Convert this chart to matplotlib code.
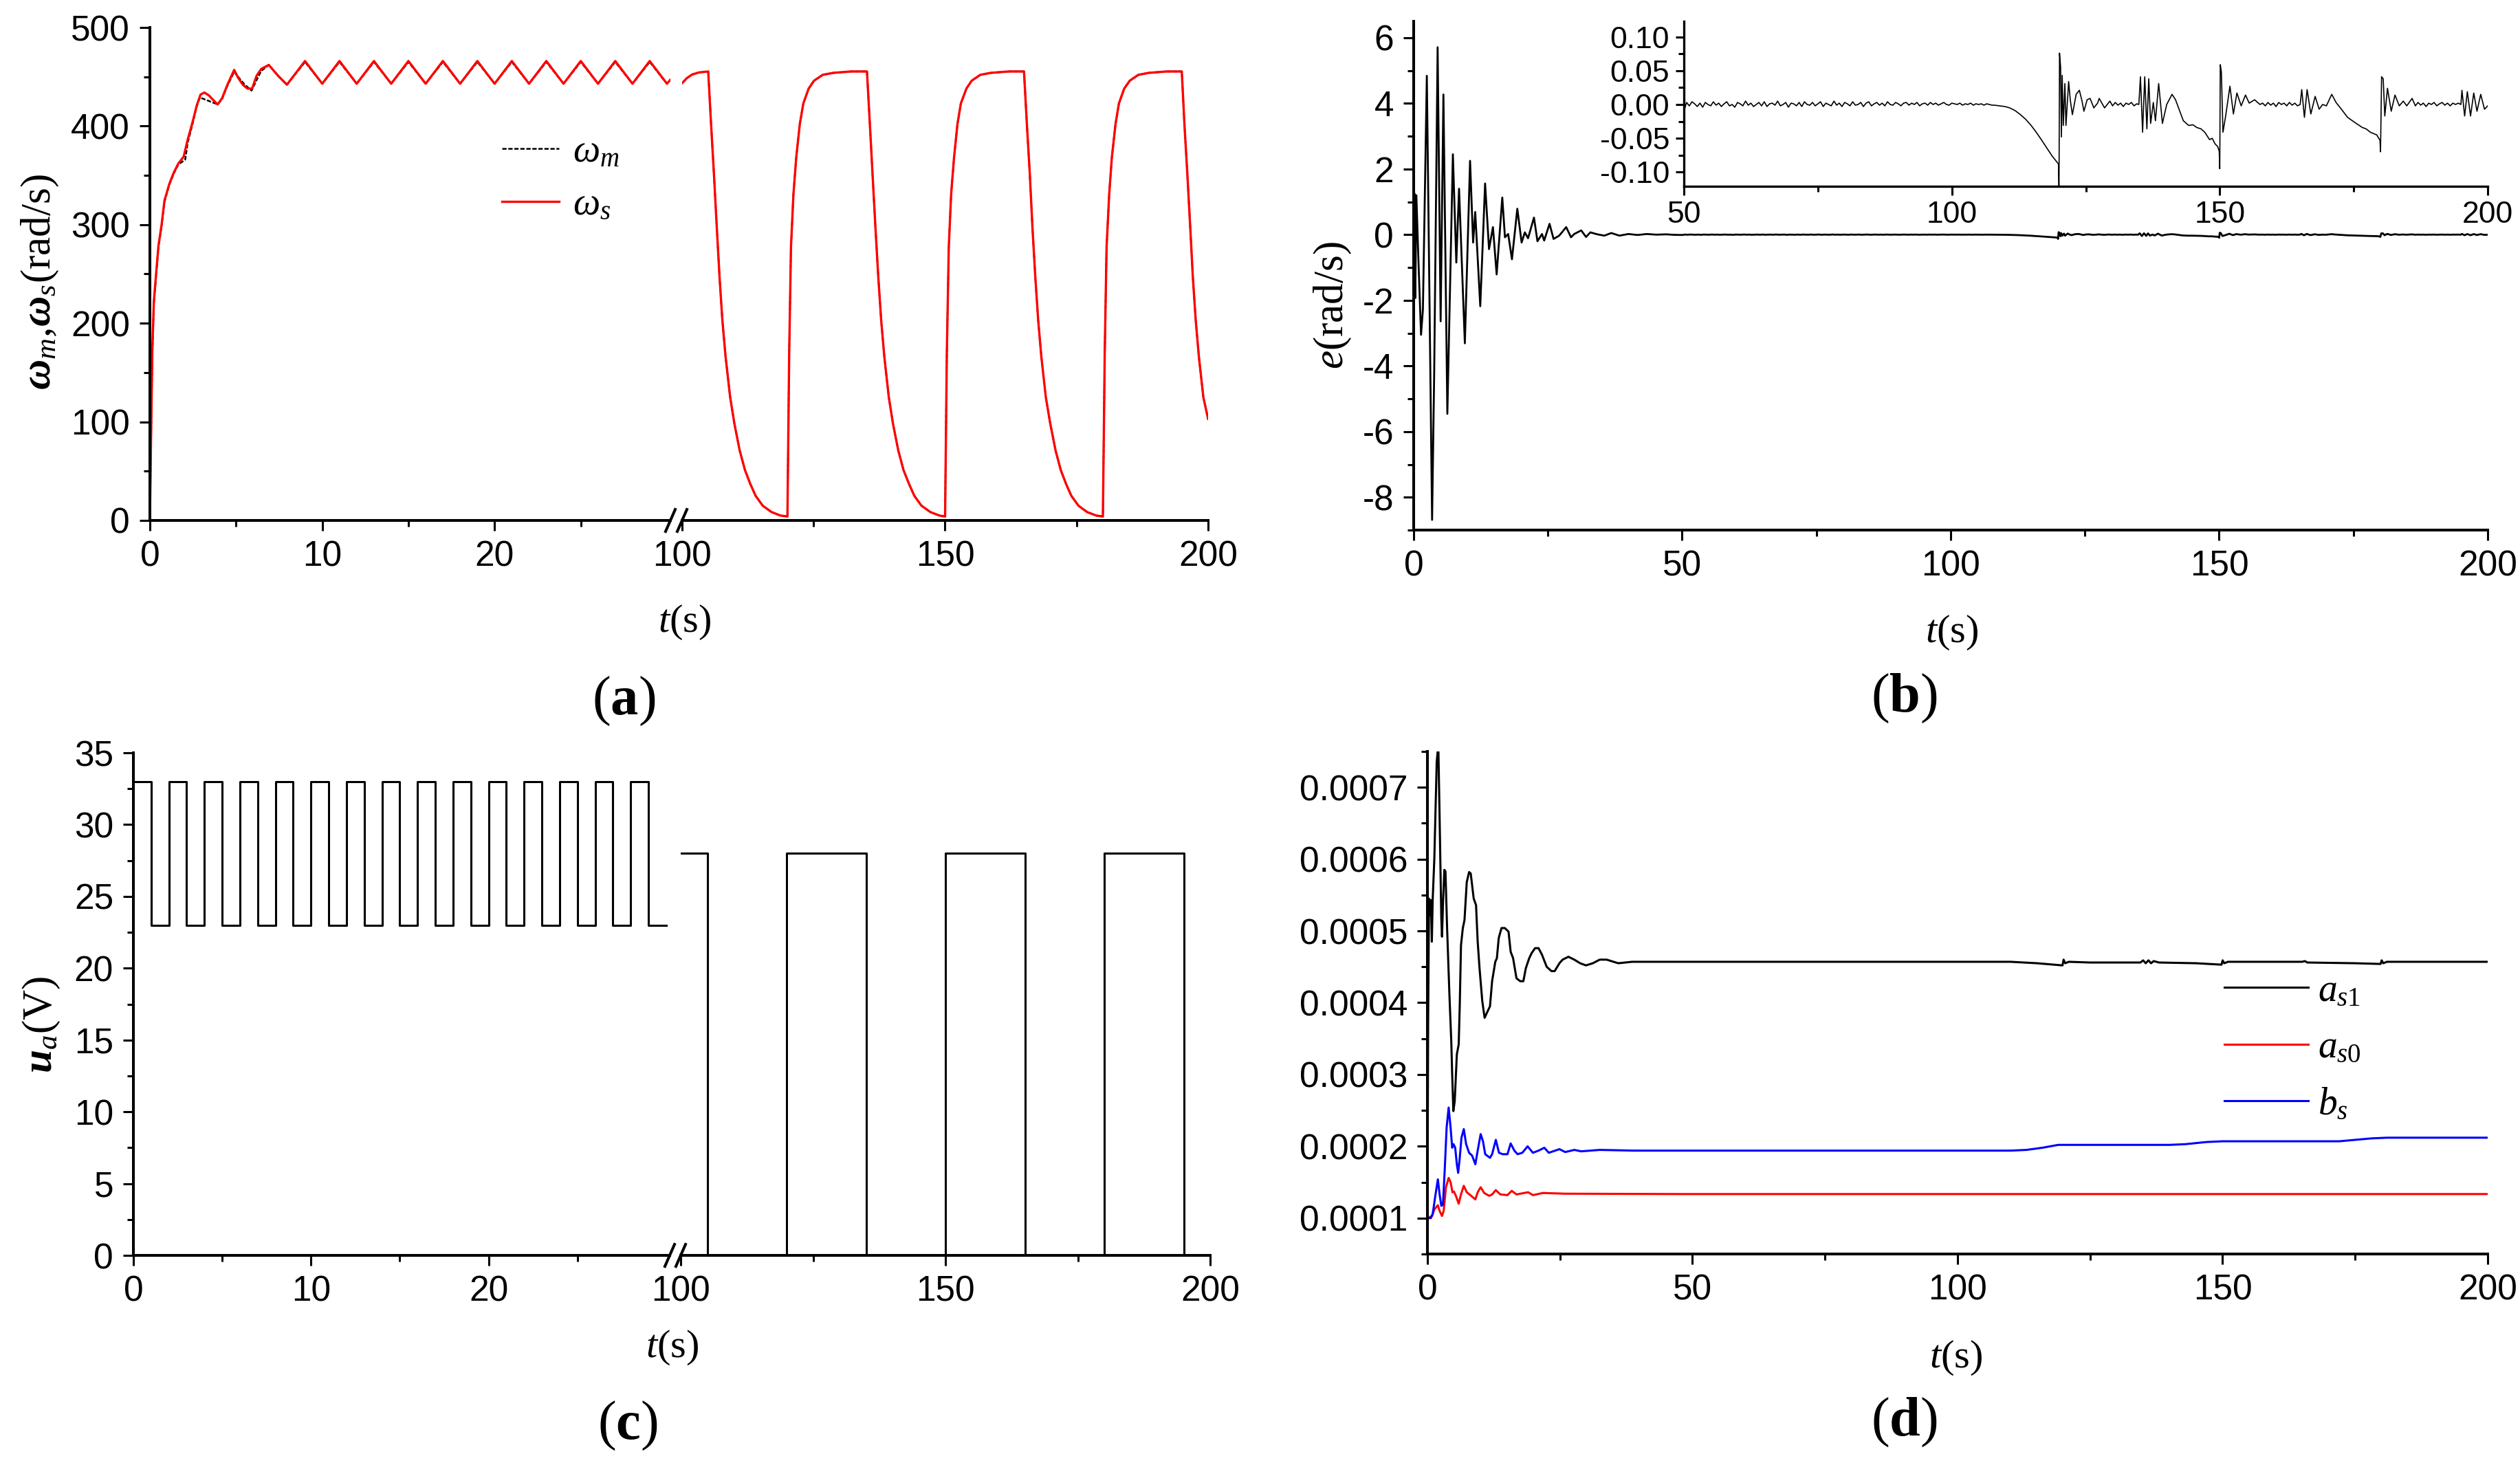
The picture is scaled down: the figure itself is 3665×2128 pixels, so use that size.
import numpy as np
import matplotlib
matplotlib.use('Agg')
import matplotlib.pyplot as plt
from matplotlib.lines import Line2D
from matplotlib.ticker import MultipleLocator, FixedLocator, FormatStrFormatter

plt.rcParams['font.family'] = ['Liberation Sans', 'DejaVu Sans']
plt.rcParams['mathtext.fontset'] = 'custom'
plt.rcParams['mathtext.rm'] = 'Liberation Serif'
plt.rcParams['mathtext.it'] = 'Liberation Serif:italic'
plt.rcParams['mathtext.bf'] = 'Liberation Serif:bold'
plt.rcParams['mathtext.bfit'] = 'Liberation Serif:italic:bold'
plt.rcParams['axes.unicode_minus'] = False

# ---- (a) speeds, left part of the broken axis (0-30 s)
ws_left_t = [0, 0.05, 0.14, 0.23, 0.36, 0.5, 0.68, 0.85, 0.94, 1.12, 1.39, 1.65, 1.96,
             2.19, 2.46, 2.72, 2.94, 3.17, 3.43, 3.7, 3.93, 4.18, 4.5, 4.89, 5.12, 5.39,
             5.66, 5.93, 6.19, 6.46, 6.9, 7.44, 7.95, 9, 10, 11, 12, 13, 14, 15, 16, 17,
             18, 19, 20, 21, 22, 23, 24, 25, 26, 27, 28, 29, 30, 30.2]
ws_left_v = [0, 65, 172, 222, 250, 279, 300, 325, 330, 341, 353, 362, 369,
             386, 403, 421, 432, 434, 431, 426, 422, 428, 442, 457, 449, 442,
             438, 438, 451, 458, 462, 451, 442, 466, 443, 466, 443, 466, 443, 466, 443, 466,
             443, 466, 443, 466, 443, 466, 443, 466, 443, 466, 443, 466, 443, 447]
wm_left_t = [0, 0.05, 0.14, 0.23, 0.36, 0.5, 0.68, 0.85, 0.94, 1.12, 1.39, 1.65, 2.05,
             2.19, 2.46, 2.72, 2.9, 3.93, 4.18, 4.5, 4.89, 5.12, 5.5, 5.9, 6.2, 6.46,
             6.9, 7.44, 7.95, 9, 10, 11, 12, 13, 14, 15, 16, 17, 18, 19, 20, 21, 22, 23,
             24, 25, 26, 27, 28, 29, 30, 30.2]
wm_left_v = [0, 60, 168, 220, 248, 277, 299, 323, 329, 340, 352, 361, 366,
             383, 401, 420, 429, 422, 427, 441, 455, 450, 442, 436, 447, 456,
             462, 451, 442, 465, 443, 465, 443, 465, 443, 465, 443, 465, 443, 465, 443, 465, 443, 465,
             443, 465, 443, 465, 443, 465, 443, 447]

# ---- (a) right part (100-200 s)
ws_right_t = [100, 100.9, 101.9, 103.2, 104.97,
              105.51, 106.05, 106.59, 107.12, 107.66, 108.27, 109.14, 109.95, 110.95, 111.96,
              112.97, 113.98, 115.32, 117.0, 118.68, 120.03,
              120.36, 120.7, 121.17, 121.7, 122.38, 123.05, 124.06, 125.07, 126.75, 128.76, 132.12, 135.15,
              135.7, 136.2, 136.75, 137.3, 137.85, 138.45, 139.3, 140.1, 141.1, 142.1,
              143.15, 144.15, 145.5, 147.2, 148.9, 150.0,
              150.33, 150.7, 151.15, 151.7, 152.35, 153.0, 154.05, 155.05, 156.7, 158.7, 162.1, 165.0,
              165.55, 166.1, 166.6, 167.15, 167.7, 168.3, 169.15, 170.0, 171.0, 172.0,
              173.0, 174.0, 175.35, 177.0, 178.7, 180.0,
              180.35, 180.7, 181.2, 181.7, 182.4, 183.05, 184.05, 185.1, 186.75, 188.75, 192.1, 195.0,
              195.5, 196.05, 196.6, 197.1, 197.65, 198.25, 199.1, 200.0]
ws_right_v = [443.5, 448.6, 452.3, 454.4, 455.4,
              402, 352, 298, 247, 203, 166, 125, 98, 71, 51,
              37, 25, 15, 8.5, 5, 4,
              169, 277, 331, 368, 402, 423, 438, 446, 452, 454, 455.4, 455.4,
              402, 352, 298, 247, 203, 166, 125, 98, 71, 51,
              37, 25, 15, 8.5, 5, 4,
              169, 277, 331, 368, 402, 423, 438, 446, 452, 454, 455.4, 455.4,
              402, 352, 298, 247, 203, 166, 125, 98, 71, 51,
              37, 25, 15, 8.5, 5, 4,
              169, 277, 331, 368, 402, 423, 438, 446, 452, 454, 455.4, 455.4,
              402, 352, 298, 247, 203, 166, 125, 103]
# omega_m lies on top of omega_s after 100 s
wm_right_t = ws_right_t
wm_right_v = ws_right_v

# ---- (b) tracking error
e_early_t = [0, 0.17, 0.3, 0.5, 0.94, 1.37, 1.72, 2.45, 3.43, 3.82, 4.46, 5.02, 5.54, 6.27,
             7.3, 7.94, 8.45, 9.53, 10.5, 11.07, 11.46, 12.4, 13.3, 14.03, 14.76, 15.45,
             16.5, 17.0, 17.6, 18.3, 19.3, 20.1, 20.7, 21.3, 22.4, 23.05, 23.9, 24.3, 25.3,
             26.05, 27.1, 28.4, 29.3, 29.9, 31.2, 32.1, 32.9, 34.2, 35.5, 36.8, 38.3, 40,
             41.7, 43.4, 45.2, 47.0, 48.5]
e_early_v = [0, 1.25, -1.93, 1.2, -1.05, -3.05, -2.28, 4.84, -8.69, -4.23, 5.71, -2.64, 4.27, -5.46,
             2.45, -0.85, 1.4, -3.31, 2.25, -0.24, 0.69, -2.18, 1.56, -0.44, 0.23, -1.21,
             1.13, -0.08, 0.02, -0.75, 0.79, -0.24, 0.07, -0.11, 0.52, -0.2, 0.02, -0.18, 0.33,
             -0.13, -0.03, 0.23, -0.08, 0.02, 0.13, -0.07, 0.07, 0.01, -0.03, 0.05, -0.03, 0.02,
             -0.01, 0.02, 0.0, 0.01, -0.005]
# 50 s to 107.5 s, read every 0.5 s
e_quiet_v = [-0.010, 0.003, -0.002, 0.004, 0.001, -0.003, 0.002, -0.004, 0.003, 0.000,
             -0.002, 0.004, -0.001, 0.002, -0.003, 0.001, 0.004, -0.002, 0.000, -0.004,
             0.003, 0.001, -0.002, 0.005, -0.001, 0.002, -0.003, 0.000, 0.003, -0.002,
             0.004, -0.003, 0.001, 0.002, -0.001, 0.005, -0.002, 0.000, 0.003, -0.004,
             0.002, 0.001, -0.002, 0.003, -0.003, 0.004, 0.000, -0.001, 0.003, -0.002,
             0.001, 0.004, -0.003, 0.002, 0.000, -0.002, 0.005, -0.001, 0.002, -0.003,
             0.003, 0.001, -0.002, 0.004, -0.001, 0.000, 0.003, -0.003, 0.002, 0.004,
             -0.002, 0.001, 0.003, -0.001, 0.002, -0.002, 0.004, 0.000, -0.001, 0.003,
             0.001, -0.002, 0.002, 0.003, -0.001, 0.002, 0.000, 0.003, -0.002, 0.001,
             0.002, -0.001, 0.003, 0.000, 0.002, -0.001, 0.001, 0.003, 0.000, -0.001,
             0.002, 0.001, 0.000, 0.002, -0.001, 0.001, 0.000, 0.002, -0.001, 0.001,
             0.000, 0.001, -0.001, 0.001, 0.000, -0.001]
e_late_t = [107.9, 108.9, 109.9, 110.8, 111.8, 112.8, 113.8, 114.8, 115.75, 116.7, 117.7, 118.7,
            119.5, 119.9, 120.0, 120.1, 120.3, 120.45, 120.6, 120.8, 121.1, 121.3, 121.8, 122.1,
            122.5, 123.2, 123.8, 124.3, 124.65, 125.25, 125.8, 126.5, 127.2, 127.5, 128.5, 129.5,
            130.0, 130.5, 131.0, 131.5, 132.0, 132.5, 133.0, 133.5, 134.0, 134.5, 134.9,
            135.2, 135.6, 136.0, 136.4, 136.75, 137.1, 137.6, 138.0, 138.6, 139.3, 140.1, 141.1,
            141.75, 142.4, 143.2, 144.2, 145.0, 145.7, 146.5, 147.2, 148.1, 148.6, 149.1, 149.6,
            149.9, 150.0, 150.1, 150.3, 150.6, 151.1, 151.9, 152.55, 153.2, 154.0, 154.8, 155.5,
            156.5, 157.5, 158.0, 158.5, 159.0, 159.5, 160.0, 160.5, 161.0, 161.5, 162.0, 162.5,
            163.0, 163.5, 164.0, 164.5, 165.0, 165.3, 165.8, 166.3, 167.0, 167.8, 168.55, 169.2,
            169.9, 170.9, 171.7, 172.7, 173.85, 175.1, 176.6, 177.3, 178.1, 179.3, 179.9, 180.0,
            180.2, 180.5, 180.8, 181.3, 182.0, 182.7, 183.5, 184.25, 184.9, 185.9, 186.5, 187.0,
            187.5, 188.0, 188.5, 189.0, 189.5, 190.0, 190.5, 191.0, 191.5, 192.0, 192.5, 193.0,
            193.5, 194.0, 194.5, 195.0, 195.2, 195.7, 196.2, 196.8, 197.4, 198.0, 198.7, 199.4, 200.0]
e_late_v = [-0.001, -0.002, -0.003, -0.005, -0.009, -0.015, -0.022, -0.031, -0.041, -0.052, -0.064, -0.076,
            -0.084, -0.088, -0.13, 0.076, 0.055, -0.048, 0.043, -0.031, 0.031, -0.031, 0.034, 0.007,
            -0.015, 0.015, 0.021, 0.005, -0.010, 0.007, 0.009, -0.005, 0.002, 0.009, -0.005, 0.005,
            -0.002, 0.003, -0.001, 0.002, -0.003, 0.002, 0.000, 0.003, -0.002, 0.001, 0.0,
            0.041, -0.041, 0.041, -0.036, 0.038, -0.028, 0.003, -0.024, 0.031, -0.028, 0.0, 0.015,
            0.007, -0.007, -0.024, -0.031, -0.030, -0.034, -0.036, -0.041, -0.052, -0.050, -0.058, -0.062,
            -0.069, -0.095, 0.059, 0.048, -0.041, -0.017, 0.027, -0.014, 0.017, -0.002, 0.014, 0.002,
            0.007, 0.0, 0.002, -0.002, 0.003, -0.001, 0.002, -0.003, 0.003, 0.000, 0.002, -0.002,
            0.003, -0.001, 0.002, -0.002, 0.0, 0.022, -0.019, 0.022, -0.014, 0.012, -0.007, 0.0,
            -0.002, 0.015, 0.003, -0.007, -0.019, -0.026, -0.034, -0.036, -0.041, -0.045, -0.053, -0.07,
            0.041, 0.038, -0.017, 0.024, -0.010, 0.014, -0.002, 0.005, -0.002, 0.009, -0.002, 0.003,
            -0.001, 0.002, -0.003, 0.002, 0.000, 0.003, -0.002, 0.001, 0.003, -0.001, 0.002, -0.002,
            0.002, 0.000, 0.002, 0.0, 0.021, -0.017, 0.019, -0.017, 0.017, -0.010, 0.015, -0.007, -0.002]

# ---- (c) armature voltage
ua_left_t = [0, 1, 2, 3, 4, 5, 6, 7, 8, 9, 10, 11, 12, 13, 14, 15,
             16, 17, 18, 19, 20, 21, 22, 23, 24, 25, 26, 27, 28, 29, 30]
ua_left_v = [33, 23, 33, 23, 33, 23, 33, 23, 33, 23, 33, 23, 33, 23, 33, 23,
             33, 23, 33, 23, 33, 23, 33, 23, 33, 23, 33, 23, 33, 23, 23]
ua_right_t = [100, 105, 120, 135, 150, 165, 180, 195, 200]
ua_right_v = [28, 0, 28, 0, 28, 0, 28, 0, 0]

# ---- (d) identified parameters
as1_t = [0, 0.13, 0.3, 0.52, 0.65, 0.83, 1.0, 1.3, 1.75, 2.05, 2.27, 2.62, 2.75, 2.97, 3.19,
         3.4, 3.71, 4.15, 4.5, 4.67, 4.89, 5.15, 5.55, 5.9, 6.1, 6.33, 6.68, 6.99, 7.42,
         7.86, 8.17, 8.73, 9.17, 9.48, 9.83, 10.35, 10.79, 11.35, 11.8, 12.2, 12.8, 13.1,
         13.45, 13.97, 14.6, 15.3, 15.7, 16.16, 16.8, 17.5, 18.1, 18.56, 19.2, 19.65, 20.3,
         20.96, 21.6, 22.5, 23.4, 24.0, 24.9, 25.5, 26.6, 27.7, 28.8, 29.9, 31.2, 32.5, 33.8,
         36, 38.6, 41.3, 48, 110, 115, 119.8, 120, 120.3, 121, 125, 134.5, 135, 135.5, 136,
         136.5, 137, 138, 145, 149.8, 150, 150.3, 151, 165, 165.5, 166, 175, 179.8, 180,
         180.3, 181, 200]
as1_v = [0.0001, 0.00037, 0.000545, 0.000522, 0.000543, 0.000485, 0.000545, 0.0006, 0.000735,
         0.00076, 0.00067, 0.000518, 0.000492, 0.000545, 0.000585, 0.000583, 0.000504, 0.000411,
         0.000346, 0.0003, 0.000249, 0.000263, 0.000328, 0.000342, 0.000397, 0.00048, 0.000504,
         0.000515, 0.000568, 0.000582, 0.00058, 0.000545, 0.000536, 0.000485, 0.000448, 0.000402,
         0.000379, 0.000388, 0.000395, 0.00043, 0.000457, 0.000462, 0.00049, 0.000504, 0.000504,
         0.000499, 0.000471, 0.000462, 0.000434, 0.00043, 0.00043, 0.000448, 0.000462, 0.000469,
         0.000476, 0.000476, 0.000467, 0.00045, 0.000444, 0.000444, 0.000455, 0.00046, 0.000464,
         0.00046, 0.000455, 0.000452, 0.000455, 0.00046, 0.00046, 0.000455, 0.000457, 0.000457,
         0.000457, 0.000457, 0.000455, 0.000452, 0.00046, 0.000455, 0.000457, 0.000456, 0.000456,
         0.000459, 0.000455, 0.000459, 0.000455, 0.000458, 0.000456, 0.000455, 0.000453, 0.000459,
         0.000455, 0.000457, 0.000457, 0.000458, 0.000456, 0.000455, 0.000454, 0.000459, 0.000455,
         0.000457, 0.000457]
as0_t = [0, 0.87, 1.3, 1.97, 2.3, 2.75, 3.06, 3.5, 4.0, 4.37, 4.72, 5.0, 5.37, 5.9, 6.33,
         6.86, 7.42, 8.1, 9.04, 9.48, 10.04, 10.7, 11.66, 12.2, 12.9, 13.75, 15.1, 15.9,
         16.8, 19.0, 19.9, 21.8, 26, 48, 200]
as0_v = [0.0001, 0.000103, 0.000112, 0.000118, 0.00011, 0.000103, 0.00011, 0.000143, 0.000156,
         0.00015, 0.000136, 0.000137, 0.000131, 0.00012, 0.000133, 0.000145, 0.000136, 0.000132,
         0.000126, 0.000136, 0.000143, 0.000135, 0.000131, 0.000133, 0.000139, 0.000133, 0.000132,
         0.000138, 0.000133, 0.000136, 0.000132, 0.000135, 0.000134, 0.0001335, 0.0001335]
bs_t = [0, 0.65, 1.0, 1.53, 1.97, 2.3, 2.62, 2.93, 3.28, 3.62, 4.0, 4.37, 4.67, 4.93, 5.24,
        5.55, 5.8, 6.1, 6.42, 6.86, 7.3, 7.86, 8.43, 9.04, 9.48, 10.04, 10.48, 10.9, 11.8,
        12.2, 12.9, 13.5, 14.2, 15.1, 15.7, 16.4, 17.0, 17.9, 18.9, 19.9, 20.96, 22.05, 22.9,
        24.9, 26.0, 27.7, 29, 32.5, 39, 48, 110, 113, 116, 119, 121, 140, 143, 147, 150,
        172, 175, 178, 181, 200]
bs_v = [0.0001, 0.0001, 0.000106, 0.000133, 0.000154, 0.000133, 0.000117, 0.000119, 0.00017,
        0.000226, 0.000254, 0.000226, 0.000198, 0.000203, 0.000198, 0.000175, 0.000163, 0.000184,
        0.000212, 0.000224, 0.000203, 0.000191, 0.000187, 0.000175, 0.000194, 0.000217, 0.000207,
        0.000189, 0.000184, 0.000189, 0.000209, 0.000191, 0.000189, 0.000189, 0.000204, 0.000194,
        0.000189, 0.000191, 0.0002, 0.000191, 0.000194, 0.000198, 0.000191, 0.000196, 0.000192,
        0.000195, 0.000193, 0.000195, 0.000194, 0.000194, 0.000194, 0.000195, 0.000198, 0.000202,
        0.000202, 0.000202, 0.000203, 0.000206, 0.000207, 0.000207, 0.000209, 0.000211, 0.000212,
        0.000212]

e_t = np.concatenate([e_early_t, 50 + 0.5 * np.arange(len(e_quiet_v)), e_late_t])
e_v = np.concatenate([e_early_v, e_quiet_v, e_late_v])

W, H = 3666, 2128
fig = plt.figure(figsize=(W / 200, H / 200), dpi=200)


def box(x0, y0, x1, y1):
    # pixel box -> figure fraction
    return [x0 / W, 1 - y1 / H, (x1 - x0) / W, (y1 - y0) / H]


def style(ax, fs=18.5, major=5.4, minor=3.2, lw=1.45):
    for s in ['top', 'right']:
        ax.spines[s].set_visible(False)
    for s in ['left', 'bottom']:
        ax.spines[s].set_linewidth(lw)
    ax.tick_params(which='both', direction='out', width=1.1, labelsize=fs, pad=5)
    ax.tick_params(which='major', length=major)
    ax.tick_params(which='minor', length=minor)


def right_part(ax):
    ax.spines['left'].set_visible(False)
    ax.tick_params(axis='y', which='both', left=False, labelleft=False)


def axis_break(ax_l, ax_r):
    bl = ax_l.get_position()
    br = ax_r.get_position()
    dx, dy = 7 / W, 16 / H
    for x in (bl.x1, br.x0):
        fig.add_artist(Line2D([x - dx, x + dx], [bl.y0 - dy, bl.y0 + dy],
                              color='k', lw=1.45, transform=fig.transFigure))


lab_font = dict(family=['Liberation Serif', 'DejaVu Serif'])

# ---------------- (a)
axa1 = fig.add_axes(box(218, 40, 975, 757))
axa2 = fig.add_axes(box(992, 40, 1757, 757), sharey=axa1)
for ax in (axa1, axa2):
    style(ax)
axa1.plot(wm_left_t, wm_left_v, color='k', lw=0.9, dashes=(2.5, 1), label=r'$\omega_m$')
axa1.plot(ws_left_t, ws_left_v, color='#ff0000', lw=1.2, label=r'$\omega_s$')
axa2.plot(wm_right_t, wm_right_v, color='k', lw=0.9, dashes=(2.5, 1))
axa2.plot(ws_right_t, ws_right_v, color='#ff0000', lw=1.2)
axa1.set_xlim(0, 30.2)
axa2.set_xlim(100, 200)
axa1.set_ylim(0, 500)
axa1.xaxis.set_major_locator(FixedLocator([0, 10, 20]))
axa1.xaxis.set_minor_locator(FixedLocator([5, 15, 25]))
axa2.xaxis.set_major_locator(FixedLocator([100, 150, 200]))
axa2.xaxis.set_minor_locator(FixedLocator([125, 175]))
axa1.yaxis.set_major_locator(MultipleLocator(100))
axa1.yaxis.set_minor_locator(MultipleLocator(50))
right_part(axa2)
axis_break(axa1, axa2)
axa1.legend(loc='center left', bbox_to_anchor=(0.676, 0.693), frameon=False, borderpad=0,
            borderaxespad=0, handlelength=1.5, handletextpad=0.35, labelspacing=0.45,
            prop=dict(family='Liberation Serif', size=20))

# ---------------- (b)
axb = fig.add_axes(box(2056, 31, 3618, 771))
style(axb)
axb.plot(e_t, e_v, color='k', lw=1.0)
axb.set_xlim(0, 200)
axb.set_ylim(-9, 6.5)
axb.xaxis.set_major_locator(MultipleLocator(50))
axb.xaxis.set_minor_locator(MultipleLocator(25))
axb.yaxis.set_major_locator(MultipleLocator(2))
axb.yaxis.set_minor_locator(MultipleLocator(1))

axi = fig.add_axes(box(2449, 31, 3618, 271))
style(axi, fs=16, major=4.5, minor=2.8, lw=1.2)
axi.plot(e_t, e_v, color='k', lw=0.6)
axi.set_xlim(50, 200)
axi.set_ylim(-0.121, 0.123)
axi.xaxis.set_major_locator(MultipleLocator(50))
axi.xaxis.set_minor_locator(MultipleLocator(25))
axi.yaxis.set_major_locator(MultipleLocator(0.05))
axi.yaxis.set_minor_locator(MultipleLocator(0.025))
axi.yaxis.set_major_formatter(FormatStrFormatter('%.2f'))
axi.tick_params(pad=3)

# ---------------- (c)
axc1 = fig.add_axes(box(194, 1095, 974, 1826))
axc2 = fig.add_axes(box(990, 1095, 1760, 1826), sharey=axc1)
for ax in (axc1, axc2):
    style(ax)
axc1.plot(ua_left_t, ua_left_v, color='k', lw=1.1, drawstyle='steps-post')
axc2.plot(ua_right_t, ua_right_v, color='k', lw=1.1, drawstyle='steps-post')
axc1.set_xlim(0, 30.2)
axc2.set_xlim(100, 200)
axc1.set_ylim(0, 35)
axc1.xaxis.set_major_locator(FixedLocator([0, 10, 20]))
axc1.xaxis.set_minor_locator(FixedLocator([5, 15, 25]))
axc2.xaxis.set_major_locator(FixedLocator([100, 150, 200]))
axc2.xaxis.set_minor_locator(FixedLocator([125, 175]))
axc1.yaxis.set_major_locator(MultipleLocator(5))
axc1.yaxis.set_minor_locator(MultipleLocator(2.5))
right_part(axc2)
axis_break(axc1, axc2)

# ---------------- (d)
axd = fig.add_axes(box(2076, 1093, 3618, 1824))
style(axd)
axd.plot(as1_t, as1_v, color='k', lw=1.1, label=r'$a_{s1}$')
axd.plot(as0_t, as0_v, color='#ff0000', lw=1.1, label=r'$a_{s0}$')
axd.plot(bs_t, bs_v, color='#0000ff', lw=1.1, label=r'$b_s$')
axd.set_xlim(0, 200)
axd.set_ylim(0.00005, 0.00075)
axd.xaxis.set_major_locator(MultipleLocator(50))
axd.xaxis.set_minor_locator(MultipleLocator(25))
axd.yaxis.set_major_locator(MultipleLocator(0.0001))
axd.yaxis.set_minor_locator(MultipleLocator(0.00005))
axd.yaxis.set_major_formatter(FormatStrFormatter('%.4f'))
axd.legend(loc='center left', bbox_to_anchor=(0.7516, 0.41), frameon=False, borderpad=0,
           borderaxespad=0, handlelength=2.2, handletextpad=0.25, labelspacing=0.55,
           prop=dict(family='Liberation Serif', size=20))

# ---------------- labels
for x, y in [(996, 905), (2839, 920), (978, 1960), (2845, 1975)]:
    fig.text(x / W, 1 - y / H, r'$t$(s)', ha='center', va='center', fontsize=21, **lab_font)
for x, y, s in [(907, 1020, 'a'), (2769, 1016, 'b'), (913, 2074, 'c'), (2769, 2069, 'd')]:
    fig.text(x / W, 1 - y / H, r'($\mathbf{%s}$)' % s, ha='center', va='center',
             fontsize=29, **lab_font)
fig.text(58 / W, 1 - 410 / H, r'$\mathbfit{\omega}_m$,$\mathbfit{\omega}_s$(rad/s)', rotation=90,
         ha='center', va='center', fontsize=22, **lab_font)
fig.text(1938 / W, 1 - 444 / H, r'$e$(rad/s)', rotation=90, ha='center', va='center',
         fontsize=22, **lab_font)
fig.text(60 / W, 1 - 1490 / H, r'$\mathbfit{u}_a$(V)', rotation=90, ha='center', va='center',
         fontsize=22, **lab_font)

fig.savefig('out.png', dpi=200)
